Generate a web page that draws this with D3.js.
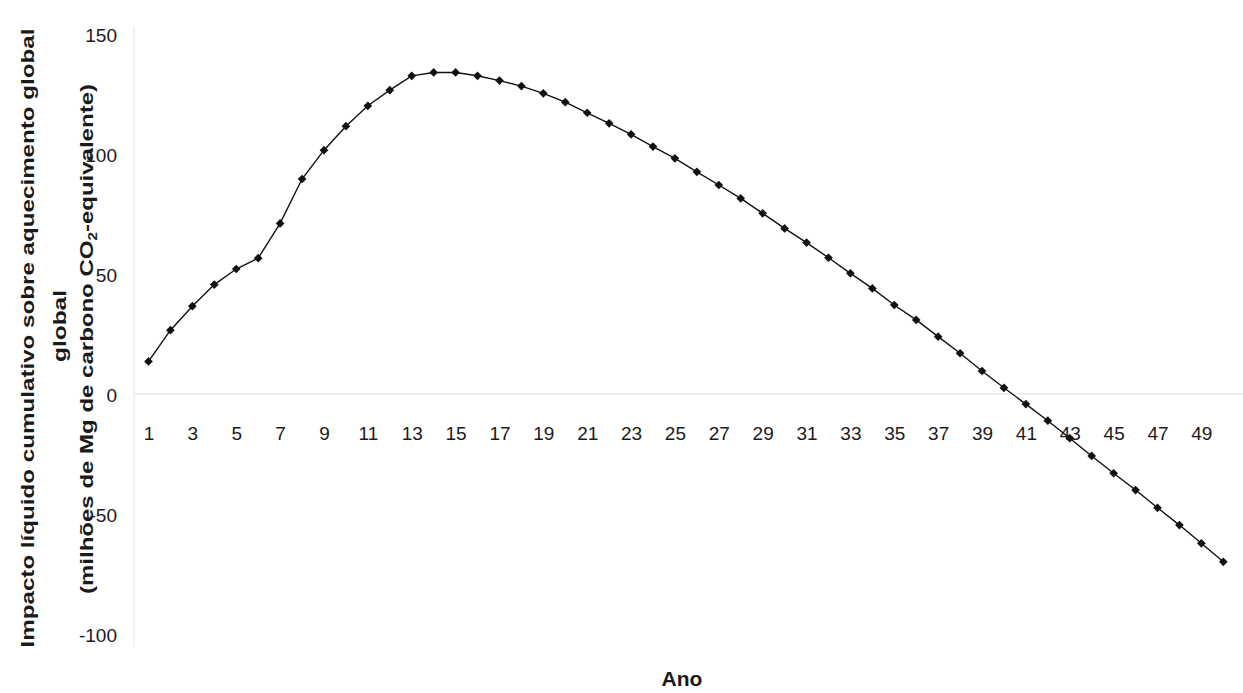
<!DOCTYPE html>
<html>
<head>
<meta charset="utf-8">
<script src="https://cdn.jsdelivr.net/npm/d3@7"></script>
<style>
  body { margin: 0; background: #fff; }
  text { font-family: "Liberation Sans", Arial, sans-serif; fill: #1a1a1a; }
</style>
</head>
<body>
<div id="chart"></div>
<script>
const width = 1243, height = 693;

// anos 1..50
const years = d3.range(1, 51);
// impacto líquido cumulativo (milhões de Mg C CO2-eq)
const impact = [
  14, 27, 37, 46, 52.5, 57, 71.5, 90, 102, 112,
  120.5, 127, 133, 134.4, 134.4, 133, 131, 128.7, 125.7, 122,
  117.6, 113.2, 108.6, 103.5, 98.6, 93, 87.5, 81.9, 75.7, 69.4,
  63.5, 57.2, 50.7, 44.4, 37.5, 31.3, 24.3, 17.4, 10, 3,
  -3.8, -10.7, -18, -25.4, -32.6, -39.6, -47, -54.2, -61.8, -69.5
];
const yTicks = [-100, -50, 0, 50, 100, 150];
const xTickLabels = d3.range(1, 50, 2);

const data = years.map((y, i) => ({ year: y, value: impact[i] }));

const svg = d3.select('#chart').append('svg')
  .attr('width', width).attr('height', height);

const x = d3.scaleLinear().domain([1, 50]).range([148.5, 1223.3]);
const y = d3.scaleLinear().domain([-100, 150]).range([635, 35]);

// eixos muito claros (como no original)
svg.append('line')
  .attr('x1', 134).attr('x2', 134)
  .attr('y1', y(150) - 8).attr('y2', y(-100) + 12)
  .attr('stroke', '#ececec').attr('stroke-width', 1.5);
svg.append('line')
  .attr('x1', 134).attr('x2', width)
  .attr('y1', y(0) - 1).attr('y2', y(0) - 1)
  .attr('stroke', '#e8e8e8').attr('stroke-width', 1.5);

// rótulos do eixo Y (hífen simples como no original)
const gy = svg.append('g')
  .attr('transform', 'translate(117,0)')
  .call(d3.axisLeft(y).tickValues(yTicks).tickFormat(d => String(d)).tickSize(0).tickPadding(0));
gy.select('.domain').remove();
gy.selectAll('text')
  .style('font-size', '19px')
  .style('font-family', '"Liberation Sans", Arial, sans-serif')
  .attr('fill', '#1a1a1a');

// rótulos do eixo X (anos ímpares)
const gx = svg.append('g')
  .attr('transform', 'translate(0,426)')
  .call(d3.axisBottom(x).tickValues(xTickLabels).tickFormat(d3.format('d')).tickSize(0).tickPadding(0));
gx.select('.domain').remove();
gx.selectAll('text')
  .style('font-size', '19px')
  .style('font-family', '"Liberation Sans", Arial, sans-serif')
  .attr('fill', '#1a1a1a');

// linha
const line = d3.line().x(d => x(d.year)).y(d => y(d.value));
svg.append('path')
  .datum(data)
  .attr('d', line)
  .attr('fill', 'none')
  .attr('stroke', '#111')
  .attr('stroke-width', 1.4);

// marcadores losango
svg.append('g').selectAll('path')
  .data(data)
  .join('path')
  .attr('d', d3.symbol().type(d3.symbolDiamond2).size(48))
  .attr('transform', d => `translate(${x(d.year)},${y(d.value)})`)
  .attr('fill', '#111');

// título do eixo X
svg.append('text')
  .attr('x', 682).attr('y', 686)
  .attr('text-anchor', 'middle')
  .style('font-size', '21px').style('font-weight', 'bold')
  .text('Ano');

// título do eixo Y (três linhas, esticado como no original)
function titleLine(xb, cy, len) {
  return svg.append('text')
    .attr('transform', `translate(${xb},${cy}) rotate(-90)`)
    .attr('text-anchor', 'middle')
    .attr('textLength', len)
    .attr('lengthAdjust', 'spacingAndGlyphs')
    .style('font-size', '19px').style('font-weight', 'bold');
}
titleLine(34, 338, 619).text('Impacto líquido cumulativo sobre aquecimento global');
titleLine(66, 326, 72).text('global');
const l3 = titleLine(93, 339, 510);
l3.append('tspan').text('(milhões de Mg de carbono CO');
l3.append('tspan').attr('dy', 4).style('font-size', '12px').text('2');
l3.append('tspan').attr('dy', -4).text('-equivalente)');
</script>
</body>
</html>
